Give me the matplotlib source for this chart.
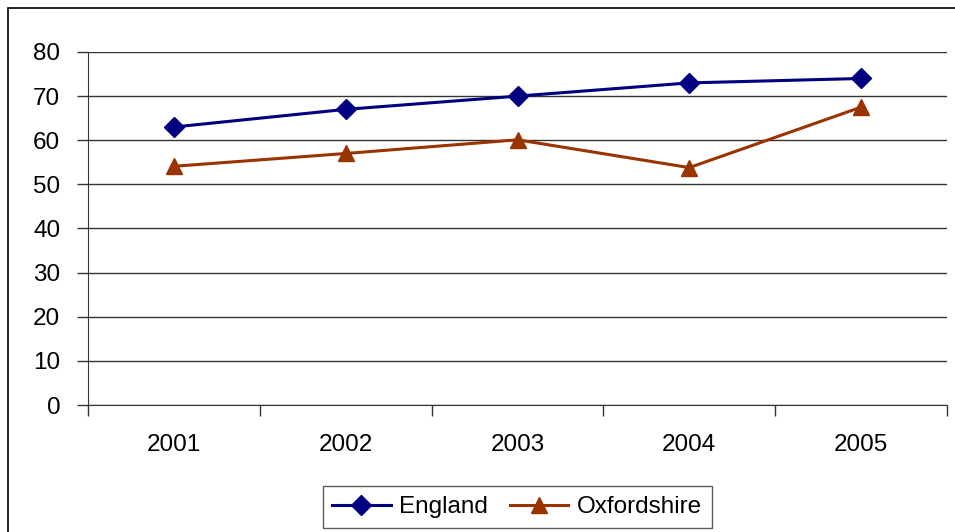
import matplotlib
matplotlib.use("Agg")
import matplotlib.pyplot as plt
from matplotlib.patches import Rectangle

years = ["2001", "2002", "2003", "2004", "2005"]
england = [63, 67, 70, 73, 74]
oxfordshire = [54.1, 57, 60.1, 53.8, 67.5]

plt.rcParams["font.family"] = ["Liberation Sans", "DejaVu Sans"]

W, H = 955, 532
fig = plt.figure(figsize=(W / 100, H / 100), dpi=100)
fig.patch.set_facecolor("white")

# chart-area border, running off the right and bottom edges
fig.patches.append(Rectangle((8 / W, -0.1), 1.2, 1 - 8 / H + 0.1,
                             transform=fig.transFigure, fill=False,
                             edgecolor="black", linewidth=1.2))

ax = fig.add_axes([88 / W, 1 - 405 / H, (947 - 88) / W, (405 - 52) / H])
x = range(len(years))
ax.plot(x, england, color="#000080", lw=2.2, marker="D", ms=10,
        label="England", zorder=3)
ax.plot(x, oxfordshire, color="#993300", lw=2.2, marker="^", ms=12,
        label="Oxfordshire", zorder=3)

ax.set_xlim(-0.5, len(years) - 0.5)
ax.set_ylim(0, 80)
ax.set_yticks(range(0, 81, 10))
ax.yaxis.grid(True, color="#333333", lw=1)
ax.set_axisbelow(True)
ax.set_xticks([i - 0.5 for i in range(len(years) + 1)], minor=False)
ax.set_xticklabels([])
ax.set_xticks(list(x), minor=True)
ax.set_xticklabels(years, minor=True)
ax.tick_params(axis="x", which="major", length=8, width=1, color="#333333",
               direction="out")
ax.tick_params(axis="x", which="minor", length=0, pad=21, labelsize=17.5)
ax.tick_params(axis="y", length=8, width=1, color="#333333", labelsize=17.5,
               pad=12)
for s in ("top", "right"):
    ax.spines[s].set_visible(False)
for s in ("left", "bottom"):
    ax.spines[s].set_color("#333333")

leg = fig.legend(loc="center", bbox_to_anchor=(517 / W, 1 - 507 / H),
                 ncol=2, fontsize=17.5, frameon=True, fancybox=False,
                 edgecolor="#333333", handlelength=2.4, handletextpad=0.35,
                 columnspacing=0.9, borderpad=0.4, borderaxespad=0)
leg.get_frame().set_linewidth(1)

fig.savefig("out.png", dpi=100)
